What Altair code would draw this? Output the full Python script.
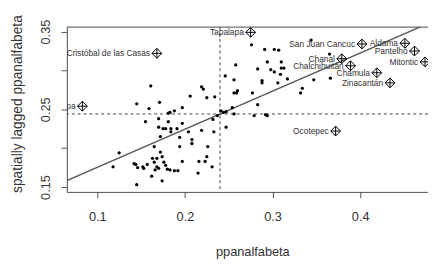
import altair as alt
import pandas as pd

# Unlabelled municipalities (ppanalfabeta, spatially lagged ppanalfabeta)
pts_x = [0.161, 0.219, 0.221, 0.206, 0.225, 0.234, 0.145, 0.171, 0.159, 0.197,
         0.181, 0.188, 0.183, 0.170, 0.155, 0.181, 0.197, 0.232, 0.237, 0.241,
         0.244, 0.247, 0.254, 0.256, 0.246, 0.256, 0.256, 0.170, 0.175, 0.178,
         0.184, 0.184, 0.191, 0.172, 0.204, 0.208, 0.208, 0.219, 0.233, 0.194,
         0.125, 0.118, 0.165, 0.172, 0.174, 0.194, 0.226, 0.225, 0.216, 0.223,
         0.197, 0.231, 0.144, 0.146, 0.152, 0.157, 0.163, 0.165, 0.168, 0.168,
         0.166, 0.170, 0.176, 0.178, 0.180, 0.183, 0.188, 0.192, 0.162, 0.174,
         0.145, 0.215, 0.142, 0.153, 0.276, 0.291, 0.302, 0.307, 0.294, 0.310,
         0.258, 0.283, 0.298, 0.302, 0.310, 0.313, 0.309, 0.288, 0.288, 0.306,
         0.317, 0.260, 0.259, 0.277, 0.334, 0.332, 0.347, 0.366, 0.365, 0.344,
         0.283, 0.247, 0.279, 0.292, 0.294]
pts_y = [0.280, 0.279, 0.276, 0.267, 0.265, 0.266, 0.257, 0.259, 0.251, 0.252,
         0.245, 0.248, 0.246, 0.238, 0.234, 0.234, 0.232, 0.237, 0.242, 0.248,
         0.246, 0.227, 0.252, 0.244, 0.293, 0.288, 0.271, 0.227, 0.225, 0.225,
         0.225, 0.221, 0.225, 0.215, 0.221, 0.211, 0.206, 0.223, 0.221, 0.214,
         0.194, 0.176, 0.202, 0.195, 0.189, 0.202, 0.202, 0.189, 0.183, 0.183,
         0.183, 0.176, 0.179, 0.175, 0.176, 0.179, 0.187, 0.182, 0.187, 0.176,
         0.172, 0.174, 0.182, 0.178, 0.173, 0.172, 0.171, 0.171, 0.164, 0.158,
         0.153, 0.168, 0.180, 0.174, 0.333, 0.327, 0.327, 0.326, 0.311, 0.311,
         0.307, 0.302, 0.301, 0.298, 0.303, 0.303, 0.295, 0.287, 0.284, 0.284,
         0.289, 0.274, 0.271, 0.271, 0.277, 0.271, 0.288, 0.290, 0.321, 0.339,
         0.256, 0.247, 0.242, 0.243, 0.242]

# Influential (labelled) municipalities
inf_names = ["Cristóbal de las Casas", "Tenejapa", "Tapalapa", "San Juan Cancuc",
             "Aldama", "Pantelhó", "Mitontic", "Chanal", "Chalchihuitán",
             "Chamula", "Zinacantán", "Ocotepec"]
inf_x = [0.168, 0.083, 0.275, 0.402, 0.451, 0.462, 0.474, 0.379, 0.389,
         0.419, 0.434, 0.372]
inf_y = [0.322, 0.254, 0.349, 0.334, 0.335, 0.325, 0.311, 0.315, 0.306,
         0.297, 0.284, 0.222]

# Means and Moran's I slope
mean_x = [0.240]
mean_y = [0.244]
moran_slope = 0.49
line_x = [0.05, 0.50]

W, H = 368, 168
X_DOM = [0.0653, 0.4774]
Y_DOM = [0.1437, 0.3558]

pts = pd.DataFrame({"x": pts_x, "y": pts_y})
inf = pd.DataFrame({"name": inf_names, "x": inf_x, "y": inf_y})
reg = pd.DataFrame({"x": line_x,
                    "y": [mean_y[0] + moran_slope * (v - mean_x[0]) for v in line_x]})
vx = pd.DataFrame({"x": mean_x})
hy = pd.DataFrame({"y": mean_y})

FONT = "Liberation Sans"
TXT = "#333333"

xscale = alt.Scale(domain=X_DOM, nice=False, zero=False)
yscale = alt.Scale(domain=Y_DOM, nice=False, zero=False)

xaxis = alt.Axis(values=[0.1, 0.2, 0.3, 0.4], format=".1f", grid=False,
                 tickSize=6, labelPadding=13, labelFontSize=13, labelFont=FONT,
                 labelColor=TXT, domainColor="#555555", tickColor="#555555",
                 title="ppanalfabeta", titleFont=FONT, titleFontSize=13,
                 titleFontWeight="normal", titleColor=TXT, titleX=189, titleY=65,
                 titleBaseline="alphabetic", titleAlign="center")
yaxis = alt.Axis(values=[0.15, 0.2, 0.25, 0.3, 0.35], grid=False,
                 labelExpr="(abs(datum.value-0.15)<0.001||abs(datum.value-0.25)<0.001||abs(datum.value-0.35)<0.001) ? format(datum.value, '.2f') : ''",
                 tickSize=6, labelPadding=12, labelFontSize=13, labelFont=FONT,
                 labelColor=TXT, labelAngle=270, labelAlign="center",
                 labelBaseline="alphabetic", domainColor="#555555", tickColor="#555555",
                 title="spatially lagged ppanalfabeta", titleFont=FONT,
                 titleFontSize=14, titleFontWeight="normal", titleColor=TXT,
                 titleX=-50, titleY=78, titleAngle=270, titleBaseline="middle",
                 titleAlign="center")

base_pts = alt.Chart(pts).mark_circle(size=11, color="black", opacity=1).encode(
    x=alt.X("x:Q", scale=xscale, axis=xaxis),
    y=alt.Y("y:Q", scale=yscale, axis=yaxis),
)

reg_line = alt.Chart(reg).mark_line(color="#555555", strokeWidth=1.4, clip=True).encode(
    x="x:Q", y="y:Q")

vline = alt.Chart(vx).mark_rule(color="#444444", strokeDash=[3, 3], strokeWidth=1).encode(
    x="x:Q")
hline = alt.Chart(hy).mark_rule(color="#444444", strokeDash=[3, 3], strokeWidth=1).encode(
    y="y:Q")

diam = alt.Chart(inf).mark_point(shape="diamond", filled=False, size=100,
                                 color="black", strokeWidth=1, opacity=1).encode(
    x="x:Q", y="y:Q")
cross = alt.Chart(inf).mark_point(shape="M-1,0L1,0M0,-1L0,1", filled=False, size=100,
                                  color="black", strokeWidth=1, opacity=1).encode(
    x="x:Q", y="y:Q")
labels = alt.Chart(inf).mark_text(align="right", baseline="middle", dx=-7,
                                  fontSize=8.5, font=FONT, color=TXT, clip=True).encode(
    x="x:Q", y="y:Q", text="name:N")

top_rule = alt.Chart(hy).mark_rule(color="#555555", strokeWidth=1).encode(
    x=alt.value(0), x2=alt.value(W), y=alt.value(0))

chart = alt.layer(vline, hline, reg_line, base_pts, diam, cross, labels, top_rule).properties(
    width=W, height=H,
    autosize=alt.AutoSizeParams(type="none"),
    padding={"left": 60, "top": 17, "right": 0, "bottom": 70},
).configure_view(stroke=None).configure(background="white")

chart.save("out.html", embed_options={"renderer": "svg", "actions": False})
